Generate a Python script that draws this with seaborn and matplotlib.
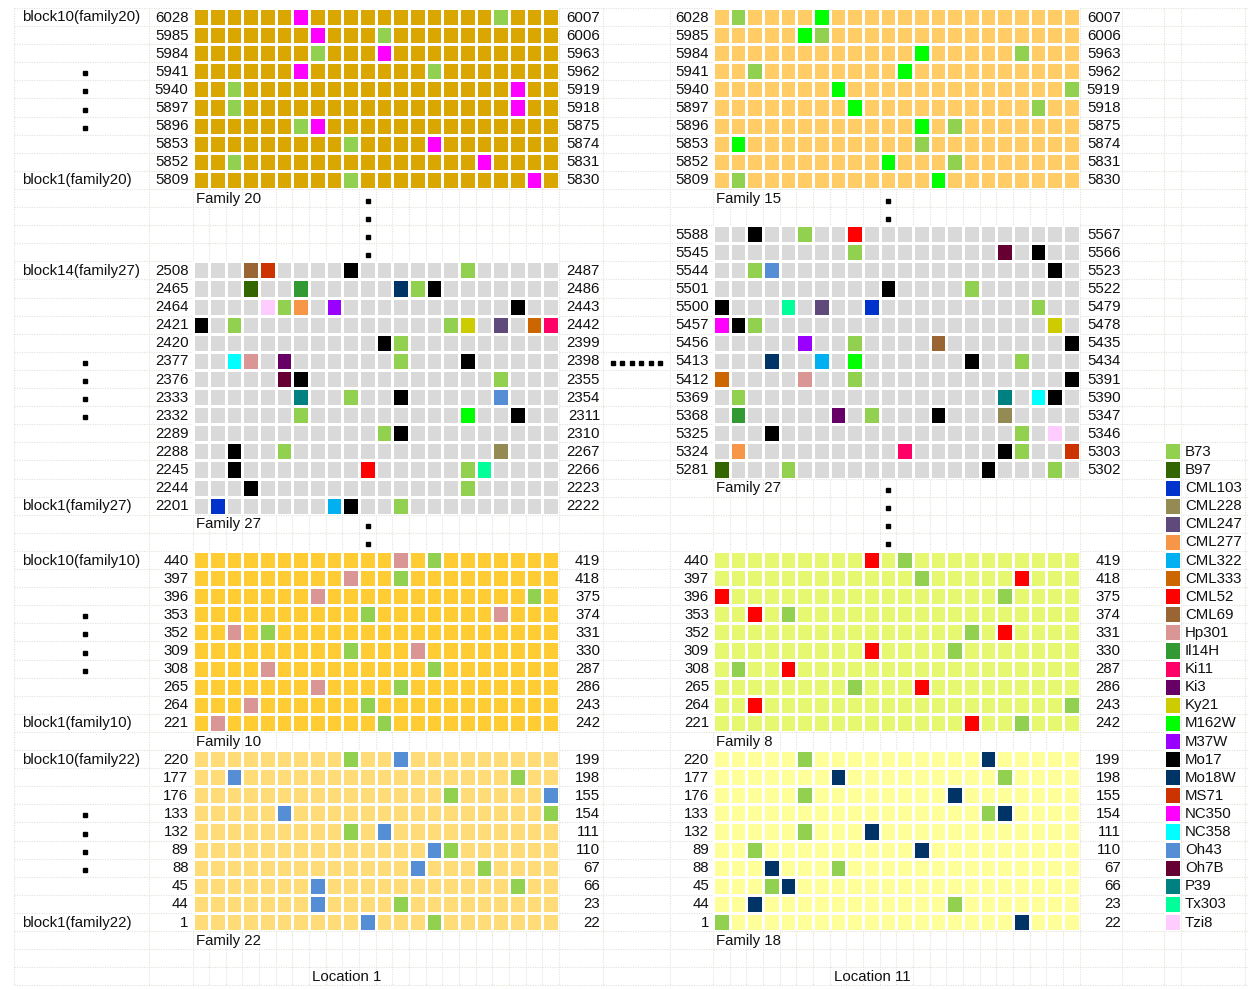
import matplotlib
matplotlib.use("Agg")
import numpy as np
import matplotlib.pyplot as plt
from matplotlib.colors import ListedColormap
import seaborn as sns

plt.rcParams["font.family"] = ["Liberation Sans", "DejaVu Sans"]

# ---------------------------------------------------------------- data
genotypes = ["B73", "B97", "CML103", "CML228", "CML247", "CML277", "CML322",
             "CML333", "CML52", "CML69", "Hp301", "Il14H", "Ki11", "Ki3",
             "Ky21", "M162W", "M37W", "Mo17", "Mo18W", "MS71", "NC350",
             "NC358", "Oh43", "Oh7B", "P39", "Tx303", "Tzi8"]
genotype_colors = ["#92D050", "#336600", "#0033CC", "#948A54", "#604A7B",
                   "#F79646", "#00B0F0", "#CC6600", "#FF0000", "#996633",
                   "#DA9694", "#339933", "#FF0066", "#660066", "#CCCC00",
                   "#00FF00", "#9900FF", "#000000", "#003366", "#CC3300",
                   "#FF00FF", "#00FFFF", "#558ED5", "#660033", "#008080",
                   "#00FF99", "#FFCCFF"]

families = ["Family 20", "Family 15", "Family 27", "Family 10",
            "Family 8", "Family 22", "Family 18"]
family_colors = ["#DAA600", "#FFCC66", "#D9D9D9", "#FFCC33",
                 "#E6F870", "#FFDC78", "#FFFF99"]

# plot numbers at the two ends of each serpentine row
rows_top_left = [6028, 5985, 5984, 5941, 5940, 5897, 5896, 5853, 5852, 5809]
rows_top_right = [6007, 6006, 5963, 5962, 5919, 5918, 5875, 5874, 5831, 5830]
rows_f27a_left = [2508, 2465, 2464, 2421, 2420, 2377, 2376, 2333, 2332, 2289,
                  2288, 2245, 2244, 2201]
rows_f27a_right = [2487, 2486, 2443, 2442, 2399, 2398, 2355, 2354, 2311, 2310,
                   2267, 2266, 2223, 2222]
rows_f27b_left = [5588, 5545, 5544, 5501, 5500, 5457, 5456, 5413, 5412, 5369,
                  5368, 5325, 5324, 5281]
rows_f27b_right = [5567, 5566, 5523, 5522, 5479, 5478, 5435, 5434, 5391, 5390,
                   5347, 5346, 5303, 5302]
rows_mid_left = [440, 397, 396, 353, 352, 309, 308, 265, 264, 221]
rows_mid_right = [419, 418, 375, 374, 331, 330, 287, 286, 243, 242]
rows_low_left = [220, 177, 176, 133, 132, 89, 88, 45, 44, 1]
rows_low_right = [199, 198, 155, 154, 111, 110, 67, 66, 23, 22]

# check plots per row: (column, genotype)
fam20_checks = [
    [(6, "NC350"), (18, "B73")],
    [(7, "NC350"), (11, "B73")],
    [(7, "B73"), (11, "NC350")],
    [(6, "NC350"), (14, "B73")],
    [(2, "B73"), (19, "NC350")],
    [(2, "B73"), (19, "NC350")],
    [(6, "B73"), (7, "NC350")],
    [(9, "B73"), (14, "NC350")],
    [(2, "B73"), (17, "NC350")],
    [(9, "B73"), (20, "NC350")],
]
fam15_checks = [
    [(1, "B73"), (6, "M162W")],
    [(5, "M162W"), (6, "B73")],
    [(12, "M162W"), (18, "B73")],
    [(2, "B73"), (11, "M162W")],
    [(7, "M162W"), (21, "B73")],
    [(8, "M162W"), (19, "B73")],
    [(12, "M162W"), (14, "B73")],
    [(1, "M162W"), (12, "B73")],
    [(10, "M162W"), (14, "B73")],
    [(1, "B73"), (13, "M162W")],
]
fam27_loc1_checks = [
    [(3, "CML69"), (4, "MS71"), (9, "Mo17"), (16, "B73")],
    [(3, "B97"), (6, "Il14H"), (12, "Mo18W"), (13, "B73"), (14, "Mo17")],
    [(4, "Tzi8"), (5, "B73"), (6, "CML277"), (8, "M37W"), (19, "Mo17")],
    [(0, "Mo17"), (2, "B73"), (15, "B73"), (16, "Ky21"), (18, "CML247"),
     (20, "CML333"), (21, "Ki11")],
    [(11, "Mo17"), (12, "B73")],
    [(2, "NC358"), (3, "Hp301"), (5, "Ki3"), (12, "B73"), (16, "Mo17")],
    [(5, "Oh7B"), (6, "Mo17"), (18, "B73")],
    [(6, "P39"), (9, "B73"), (12, "Mo17"), (18, "Oh43")],
    [(6, "B73"), (16, "M162W"), (19, "Mo17")],
    [(11, "B73"), (12, "Mo17")],
    [(2, "Mo17"), (5, "B73"), (18, "CML228")],
    [(2, "Mo17"), (10, "CML52"), (16, "B73"), (17, "Tx303")],
    [(3, "Mo17"), (16, "B73")],
    [(1, "CML103"), (8, "CML322"), (9, "Mo17"), (12, "B73")],
]
fam27_loc11_checks = [
    [(2, "Mo17"), (5, "B73"), (8, "CML52")],
    [(8, "B73"), (17, "Oh7B"), (19, "Mo17")],
    [(2, "B73"), (3, "Oh43"), (20, "Mo17")],
    [(10, "Mo17"), (15, "B73")],
    [(0, "Mo17"), (4, "Tx303"), (6, "CML247"), (9, "CML103"), (19, "B73")],
    [(0, "NC350"), (1, "Mo17"), (2, "B73"), (20, "Ky21")],
    [(5, "M37W"), (8, "B73"), (13, "CML69"), (21, "Mo17")],
    [(3, "Mo18W"), (6, "CML322"), (8, "M162W"), (15, "Mo17"), (18, "B73")],
    [(0, "CML333"), (5, "Hp301"), (8, "B73"), (21, "Mo17")],
    [(1, "B73"), (17, "P39"), (19, "NC358"), (20, "Mo17")],
    [(1, "Il14H"), (7, "Ki3"), (9, "B73"), (13, "Mo17"), (17, "CML228")],
    [(3, "Mo17"), (18, "B73"), (20, "Tzi8")],
    [(1, "CML277"), (11, "Ki11"), (17, "Mo17"), (18, "B73"), (21, "MS71")],
    [(0, "B97"), (4, "B73"), (16, "Mo17"), (20, "B73")],
]
fam10_checks = [
    [(12, "Hp301"), (14, "B73")],
    [(9, "Hp301"), (12, "B73")],
    [(7, "Hp301"), (20, "B73")],
    [(10, "B73"), (18, "Hp301")],
    [(2, "Hp301"), (4, "B73")],
    [(9, "B73"), (13, "Hp301")],
    [(4, "Hp301"), (14, "B73")],
    [(7, "Hp301"), (12, "B73")],
    [(3, "Hp301"), (10, "B73")],
    [(1, "Hp301"), (11, "B73")],
]
fam8_checks = [
    [(9, "CML52"), (11, "B73")],
    [(12, "B73"), (18, "CML52")],
    [(0, "CML52"), (17, "B73")],
    [(2, "CML52"), (4, "B73")],
    [(15, "B73"), (17, "CML52")],
    [(9, "CML52"), (14, "B73")],
    [(1, "B73"), (4, "CML52")],
    [(8, "B73"), (12, "CML52")],
    [(2, "CML52"), (21, "B73")],
    [(15, "CML52"), (18, "B73")],
]
fam22_checks = [
    [(9, "B73"), (12, "Oh43")],
    [(2, "Oh43"), (19, "B73")],
    [(15, "B73"), (21, "Oh43")],
    [(5, "Oh43"), (21, "B73")],
    [(9, "B73"), (11, "Oh43")],
    [(14, "Oh43"), (15, "B73")],
    [(13, "Oh43"), (17, "B73")],
    [(7, "Oh43"), (19, "B73")],
    [(7, "Oh43"), (12, "B73")],
    [(10, "Oh43"), (14, "B73")],
]
fam18_checks = [
    [(5, "B73"), (16, "Mo18W")],
    [(7, "Mo18W"), (17, "B73")],
    [(5, "B73"), (14, "Mo18W")],
    [(16, "B73"), (17, "Mo18W")],
    [(5, "B73"), (9, "Mo18W")],
    [(2, "B73"), (12, "Mo18W")],
    [(3, "Mo18W"), (7, "B73")],
    [(3, "B73"), (4, "Mo18W")],
    [(2, "Mo18W"), (14, "B73")],
    [(0, "B73"), (18, "Mo18W")],
]

N_COLS = 22

# ---------------------------------------------------------------- layout (pixels)
W, H = 1248, 990
ROW_H = 18.1
ROW0 = 7.95                    # top of the first sheet row
CELL_W = 16.66
LEFT_X0, RIGHT_X0 = 192.5, 713.0


def row_top(k):
    return ROW0 + ROW_H * k


def row_mid(k):
    return ROW0 + ROW_H * (k + 0.5)


fig = plt.figure(figsize=(W / 100, H / 100), dpi=100)
fig.patch.set_facecolor("white")
sheet = fig.add_axes([0, 0, 1, 1])
sheet.set_xlim(0, W)
sheet.set_ylim(H, 0)
sheet.axis("off")

# sheet gridlines
grid_kw = dict(color="#E2E2DA", lw=0.8, ls=(0, (1, 1.2)), zorder=0)
col_edges = ([14, 149] + [LEFT_X0 + CELL_W * j for j in range(N_COLS + 1)]
             + [603, 670] + [RIGHT_X0 + CELL_W * j for j in range(N_COLS + 1)]
             + [1122, 1164, 1181, 1245])
for x in col_edges:
    sheet.plot([x, x], [row_top(0), row_top(54)], **grid_kw)
for i in range(55):
    sheet.plot([14, W], [row_top(i)] * 2, **grid_kw)

all_colors = genotype_colors + family_colors
cmap = ListedColormap(all_colors)
n_codes = len(all_colors)
TEXT = dict(fontsize=10.8, color="#111111", va="center")


def draw_block(x0, k0, family, checks, left_nums, right_nums):
    nrows = len(checks)
    grid = np.full((nrows, N_COLS), len(genotypes) + families.index(family))
    for r, row in enumerate(checks):
        for c, g in row:
            grid[r, c] = genotypes.index(g)
    w, h = CELL_W * N_COLS, ROW_H * nrows
    y0 = row_top(k0)
    ax = fig.add_axes([x0 / W, 1 - (y0 + h) / H, w / W, h / H])
    sns.heatmap(grid, ax=ax, cmap=cmap, vmin=-0.5, vmax=n_codes - 0.5,
                cbar=False, linewidths=0.75, linecolor="white",
                xticklabels=False, yticklabels=False)
    ax.set_xlabel("")
    ax.set_ylabel("")
    for r in range(nrows):
        sheet.text(x0 - 4, row_mid(k0 + r) + 0.5, str(left_nums[r]), ha="right", **TEXT)
        sheet.text(x0 + w + 41, row_mid(k0 + r) + 0.5, str(right_nums[r]), ha="right", **TEXT)
    sheet.text(x0 + 3, row_mid(k0 + nrows) + 0.5, family, ha="left", **TEXT)


blocks = [
    (LEFT_X0, 0, "Family 20", fam20_checks, rows_top_left, rows_top_right),
    (RIGHT_X0, 0, "Family 15", fam15_checks, rows_top_left, rows_top_right),
    (LEFT_X0, 14, "Family 27", fam27_loc1_checks, rows_f27a_left, rows_f27a_right),
    (RIGHT_X0, 12, "Family 27", fam27_loc11_checks, rows_f27b_left, rows_f27b_right),
    (LEFT_X0, 30, "Family 10", fam10_checks, rows_mid_left, rows_mid_right),
    (RIGHT_X0, 30, "Family 8", fam8_checks, rows_mid_left, rows_mid_right),
    (LEFT_X0, 41, "Family 22", fam22_checks, rows_low_left, rows_low_right),
    (RIGHT_X0, 41, "Family 18", fam18_checks, rows_low_left, rows_low_right),
]
for b in blocks:
    draw_block(*b)

# block names in the first column
block_names = [(0, "block10(family20)"), (9, "block1(family20)"),
               (14, "block14(family27)"), (27, "block1(family27)"),
               (30, "block10(family10)"), (39, "block1(family10)"),
               (41, "block10(family22)"), (50, "block1(family22)")]
for k, s in block_names:
    sheet.text(22, row_mid(k) + 0.5, s, ha="left", **TEXT)

# ellipsis marks
dot_kw = dict(marker="s", ms=2.4, color="black", ls="none")
for k in [3, 4, 5, 6, 19, 20, 21, 22, 33, 34, 35, 36, 44, 45, 46, 47]:
    sheet.plot([85], [row_mid(k) + 2], **dot_kw)
for k in [10, 11, 12, 13, 28, 29]:
    sheet.plot([368], [row_mid(k) + 2.5], **dot_kw)
for k in [10, 11, 26, 27, 28, 29]:
    sheet.plot([888], [row_mid(k) + 2.5], **dot_kw)
sheet.plot([613 + 9.4 * i for i in range(6)], [row_mid(19) + 2.5] * 6, **dot_kw)

# location titles
sheet.text(347, row_mid(53) + 0.5, "Location 1", ha="center", **TEXT)
sheet.text(872, row_mid(53) + 0.5, "Location 11", ha="center", **TEXT)

# legend: one swatch cell per genotype
k_leg = 24
leg_h = ROW_H * len(genotypes)
leg_ax = fig.add_axes([1164 / W, 1 - (row_top(k_leg) + leg_h) / H, 17 / W, leg_h / H])
sns.heatmap(np.arange(len(genotypes)).reshape(-1, 1), ax=leg_ax, cmap=cmap,
            vmin=-0.5, vmax=n_codes - 0.5, cbar=False, linewidths=0.75,
            linecolor="white", xticklabels=False, yticklabels=False)
for i, g in enumerate(genotypes):
    sheet.text(1185, row_mid(k_leg + i) + 0.5, g, ha="left", **TEXT)

fig.savefig("out.png", dpi=100)
